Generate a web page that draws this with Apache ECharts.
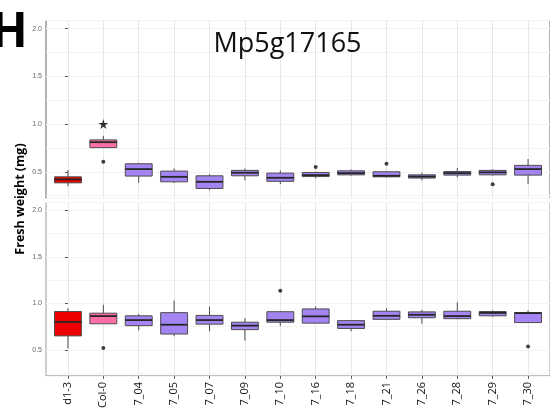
<!DOCTYPE html>
<html>
<head>
<meta charset="utf-8">
<script src="https://cdn.jsdelivr.net/npm/echarts@6/dist/echarts.min.js"></script>
<style>
  html, body { margin: 0; padding: 0; background: #fff; }
  #main { width: 550px; height: 411px; }
</style>
</head>
<body>
<div id="main"></div>
<script>
const categories = ['d1-3', 'Col-0', '7_04', '7_05', '7_07', '7_09', '7_10', '7_16', '7_18', '7_21', '7_26', '7_28', '7_29', '7_30']
const yTicks = [0.5, 1.0, 1.5, 2.0]

// [min, q1, median, q3, max] per line
const topStats = [
  [0.35, 0.384, 0.42, 0.447, 0.518],
  [0.753, 0.753, 0.81, 0.834, 0.876],
  [0.384, 0.455, 0.528, 0.584, 0.595],
  [0.384, 0.395, 0.447, 0.507, 0.535],
  [0.307, 0.325, 0.395, 0.458, 0.476],
  [0.41, 0.458, 0.49, 0.515, 0.535],
  [0.37, 0.40, 0.437, 0.486, 0.515],
  [0.43, 0.45, 0.465, 0.493, 0.50],
  [0.46, 0.468, 0.486, 0.51, 0.525],
  [0.44, 0.447, 0.458, 0.50, 0.51],
  [0.41, 0.434, 0.45, 0.468, 0.49],
  [0.44, 0.465, 0.486, 0.503, 0.54],
  [0.46, 0.468, 0.494, 0.515, 0.525],
  [0.37, 0.465, 0.528, 0.567, 0.634]
]
const topOutliers = [[1, 0.605], [7, 0.55], [9, 0.584], [12, 0.37]]
const topStars = [[1, 1.0]]

const bottomStats = [
  [0.515, 0.65, 0.80, 0.912, 0.946],
  [0.78, 0.78, 0.863, 0.894, 0.985],
  [0.71, 0.76, 0.82, 0.866, 0.887],
  [0.646, 0.67, 0.77, 0.90, 1.03],
  [0.70, 0.776, 0.82, 0.87, 0.964],
  [0.60, 0.717, 0.76, 0.797, 0.84],
  [0.755, 0.797, 0.82, 0.91, 0.91],
  [0.787, 0.787, 0.86, 0.94, 0.967],
  [0.70, 0.73, 0.77, 0.814, 0.82],
  [0.82, 0.828, 0.866, 0.915, 0.947],
  [0.78, 0.845, 0.877, 0.908, 0.93],
  [0.83, 0.835, 0.863, 0.915, 1.01],
  [0.855, 0.866, 0.897, 0.912, 0.925],
  [0.793, 0.793, 0.895, 0.90, 0.925]
]
const bottomOutliers = [[1, 0.52], [6, 1.135], [13, 0.535]]

const Y_MIN = 0.22
const Y_MAX = 2.085
const X_MIN = -0.62
const X_MAX = 13.62

const boxFill = (i) => {
  if (i === 0) return '#ee0000'
  if (i === 1) return '#ff6ea6'
  return '#a384f2'
}

const withIndex = (stats) => stats.map((s, i) => [i].concat(s))

function renderBox (params, api) {
  const x = api.value(0)
  const lo = api.coord([x, api.value(1)])
  const q1 = api.coord([x, api.value(2)])
  const md = api.coord([x, api.value(3)])
  const q3 = api.coord([x, api.value(4)])
  const hi = api.coord([x, api.value(5)])
  const w = api.size([0.76, 0])[0]
  const cx = md[0]
  const edge = '#4d4d4d'
  return {
    type: 'group',
    children: [
      { type: 'line', shape: { x1: cx, y1: hi[1], x2: cx, y2: q3[1] }, style: { stroke: edge, lineWidth: 1 } },
      { type: 'line', shape: { x1: cx, y1: q1[1], x2: cx, y2: lo[1] }, style: { stroke: edge, lineWidth: 1 } },
      { type: 'rect', shape: { x: cx - w / 2, y: q3[1], width: w, height: q1[1] - q3[1] }, style: { fill: boxFill(api.value(0)), stroke: edge, lineWidth: 1 } },
      { type: 'line', shape: { x1: cx - w / 2, y1: md[1], x2: cx + w / 2, y2: md[1] }, style: { stroke: '#262626', lineWidth: 1.8 } }
    ]
  }
}

const grids = [
  { left: 46, right: -2.2, top: 20.5, height: 178, show: true, borderColor: '#666', borderWidth: 1, backgroundColor: 'transparent' },
  { left: 46, right: -2.2, top: 202.5, height: 177.5, show: true, borderColor: '#999', borderWidth: 1, backgroundColor: 'transparent' }
]

function makeXAxis (gridIndex, withLabels) {
  return {
    type: 'value',
    gridIndex: gridIndex,
    min: X_MIN,
    max: X_MAX,
    minInterval: 1,
    maxInterval: 1,
    axisLine: { show: false },
    axisTick: {
      show: withLabels,
      customValues: categories.map((c, i) => i),
      length: 3,
      lineStyle: { color: '#555' }
    },
    axisLabel: {
      show: withLabels,
      customValues: categories.map((c, i) => i),
      formatter: (v) => categories[Math.round(v)],
      rotate: 90,
      margin: 6,
      fontSize: 11,
      color: '#111',
      fontFamily: 'Open Sans'
    },
    splitLine: { show: true, lineStyle: { color: '#e8e8e8', width: 1 } }
  }
}

function makeYAxes (gridIndex) {
  return [
    {
      type: 'value',
      gridIndex: gridIndex,
      min: Y_MIN,
      max: Y_MAX,
      minInterval: 0.5,
      maxInterval: 0.5,
      axisLine: { show: false },
      axisTick: { show: true, customValues: yTicks, length: 3, lineStyle: { color: '#555' } },
      axisLabel: {
        customValues: yTicks,
        formatter: (v) => v.toFixed(1),
        fontSize: 7,
        color: '#666',
        margin: 4,
        fontFamily: 'Liberation Sans'
      },
      splitLine: { show: true, lineStyle: { color: '#e8e8e8', width: 1 } }
    },
    {
      // minor grid lines only
      type: 'value',
      gridIndex: gridIndex,
      min: Y_MIN,
      max: Y_MAX,
      minInterval: 0.25,
      maxInterval: 0.25,
      axisLine: { show: false },
      axisTick: { show: false },
      axisLabel: { show: false },
      splitLine: { show: true, lineStyle: { color: '#f4f4f4', width: 1 } }
    }
  ]
}

const option = {
  animation: false,
  backgroundColor: '#fff',
  textStyle: { fontFamily: 'Open Sans' },
  title: {
    text: 'Mp5g17165',
    left: 287.5,
    top: 31,
    textAlign: 'center',
    padding: 0,
    textStyle: { fontSize: 27, fontWeight: 'normal', color: '#111', fontFamily: 'Open Sans' }
  },
  graphic: [
    {
      type: 'text',
      left: -9,
      top: 9,
      style: { text: 'H', fontSize: 48, fontWeight: 'bold', fill: '#000', fontFamily: 'Open Sans' }
    },
    {
      type: 'text',
      x: 20,
      y: 199,
      rotation: Math.PI / 2,
      style: {
        text: 'Fresh weight (mg)',
        fontSize: 12.5,
        fontWeight: 'bold',
        fill: '#000',
        fontFamily: 'Open Sans',
        align: 'center',
        verticalAlign: 'middle'
      }
    }
  ],
  grid: grids,
  xAxis: [makeXAxis(0, false), makeXAxis(1, true)],
  yAxis: makeYAxes(0).concat(makeYAxes(1)),
  series: [
    {
      type: 'custom',
      xAxisIndex: 0,
      yAxisIndex: 0,
      renderItem: renderBox,
      encode: { x: 0, y: [1, 2, 3, 4, 5] },
      data: withIndex(topStats),
      z: 3
    },
    {
      type: 'scatter',
      xAxisIndex: 0,
      yAxisIndex: 0,
      symbolSize: 4,
      itemStyle: { color: '#111' },
      data: topOutliers,
      z: 4
    },
    {
      type: 'scatter',
      xAxisIndex: 0,
      yAxisIndex: 0,
      symbol: 'path://M50,0 L61,35 L98,35 L68,57 L79,91 L50,70 L21,91 L32,57 L2,35 L39,35 Z',
      symbolSize: 10,
      itemStyle: { color: '#000' },
      data: topStars,
      z: 4
    },
    {
      type: 'custom',
      xAxisIndex: 1,
      yAxisIndex: 2,
      renderItem: renderBox,
      encode: { x: 0, y: [1, 2, 3, 4, 5] },
      data: withIndex(bottomStats),
      z: 3
    },
    {
      type: 'scatter',
      xAxisIndex: 1,
      yAxisIndex: 2,
      symbolSize: 4,
      itemStyle: { color: '#111' },
      data: bottomOutliers,
      z: 4
    }
  ]
}

const myChart = echarts.init(document.getElementById('main'))
myChart.setOption(option)
</script>
</body>
</html>
